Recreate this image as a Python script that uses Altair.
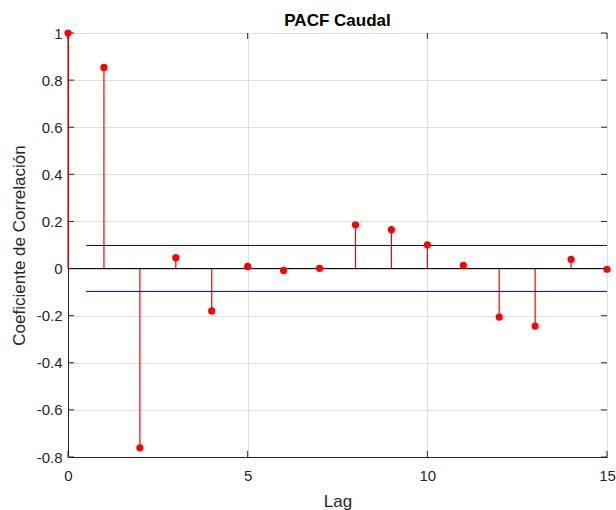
import altair as alt
import pandas as pd

# ---- data ----
lags = list(range(16))
pacf = [1.0, 0.854, -0.761, 0.046, -0.180, 0.009, -0.008, 0.001,
        0.186, 0.165, 0.101, 0.014, -0.206, -0.244, 0.039, -0.003]
bound_upper = 0.098
bound_lower = -0.097
bound_x = [0.5, 15]
x_ticks = [0, 5, 10, 15]
y_ticks = [-0.8, -0.6, -0.4, -0.2, 0, 0.2, 0.4, 0.6, 0.8, 1.0]

W, H = 539, 424
FONT = "Liberation Sans"
AX = "#262626"
RED = "#ff0000"

df = pd.DataFrame({"lag": lags, "pacf": pacf, "zero": [0.0] * len(lags)})
df_bounds = pd.DataFrame({"x": [bound_x[0]] * 2, "x2": [bound_x[1]] * 2,
                          "y": [bound_upper, bound_lower]})
df_zero = pd.DataFrame({"x": [x_ticks[0]], "x2": [x_ticks[-1]], "y": [0.0]})
df_xt = pd.DataFrame({"x": x_ticks})
df_yt = pd.DataFrame({"y": y_ticks})

xs = alt.Scale(domain=[0, 15], nice=False, zero=False)
ys = alt.Scale(domain=[-0.8, 1.0], nice=False, zero=False)

lbl = "replace(format(datum.value, '.1~f'), '\u2212', '-')"

xaxis = alt.Axis(values=x_ticks, title="Lag", grid=True, gridColor="#dfdfdf",
                 ticks=False, domainColor=AX, labelColor=AX, labelFont=FONT,
                 labelFontSize=15, labelPadding=11, labelExpr=lbl,
                 labelFlush=False, labelOverlap=False,
                 titleFont=FONT, titleFontSize=17, titleFontWeight="normal",
                 titleColor=AX, titleX=W / 2, titleY=49,
                 titleBaseline="alphabetic", titleAlign="center")
yaxis = alt.Axis(values=y_ticks, title="Coeficiente de Correlación", grid=True,
                 gridColor="#dfdfdf", ticks=False, domainColor=AX,
                 labelColor=AX, labelFont=FONT, labelFontSize=15,
                 labelPadding=6, labelExpr=lbl,
                 labelFlush=False, labelOverlap=False,
                 titleFont=FONT, titleFontSize=17, titleFontWeight="normal",
                 titleColor=AX, titleX=-44, titleY=H / 2, titleAngle=270,
                 titleBaseline="alphabetic", titleAlign="center")

stems = alt.Chart(df).mark_rule(color=RED, strokeWidth=1.2).encode(
    x=alt.X("lag:Q", scale=xs, axis=xaxis),
    y=alt.Y("zero:Q", scale=ys, axis=yaxis),
    y2="pacf:Q",
)

zero_line = alt.Chart(df_zero).mark_rule(color="#000000", strokeWidth=1).encode(
    x=alt.X("x:Q", scale=xs), x2="x2:Q", y=alt.Y("y:Q", scale=ys))

bounds = alt.Chart(df_bounds).mark_rule(color="#0000cc", strokeWidth=1).encode(
    x=alt.X("x:Q", scale=xs), x2="x2:Q", y=alt.Y("y:Q", scale=ys))

points = alt.Chart(df).mark_circle(color=RED, opacity=1, size=52).encode(
    x=alt.X("lag:Q", scale=xs), y=alt.Y("pacf:Q", scale=ys))

xt_bottom = alt.Chart(df_xt).mark_rule(color=AX).encode(
    x=alt.X("x:Q", scale=xs), y=alt.value(H), y2=alt.value(H - 6))
xt_top = alt.Chart(df_xt).mark_rule(color=AX).encode(
    x=alt.X("x:Q", scale=xs), y=alt.value(0), y2=alt.value(6))
yt_left = alt.Chart(df_yt).mark_rule(color=AX).encode(
    y=alt.Y("y:Q", scale=ys), x=alt.value(0), x2=alt.value(6))
yt_right = alt.Chart(df_yt).mark_rule(color=AX).encode(
    y=alt.Y("y:Q", scale=ys), x=alt.value(W), x2=alt.value(W - 6))

chart = alt.layer(
    stems, zero_line, bounds, xt_bottom, xt_top, yt_left, yt_right, points
).properties(
    width=W, height=H,
    title=alt.Title("PACF Caudal", font=FONT, fontSize=17, fontWeight="bold",
                    color="#000000", anchor="middle", offset=7, dy=11),
    autosize=alt.AutoSizeParams(type="none"),
    padding={"left": 68, "top": 33, "right": 9, "bottom": 53},
).configure_view(stroke=AX, strokeWidth=1)

chart.save("out.html", embed_options={"renderer": "svg", "actions": False})
